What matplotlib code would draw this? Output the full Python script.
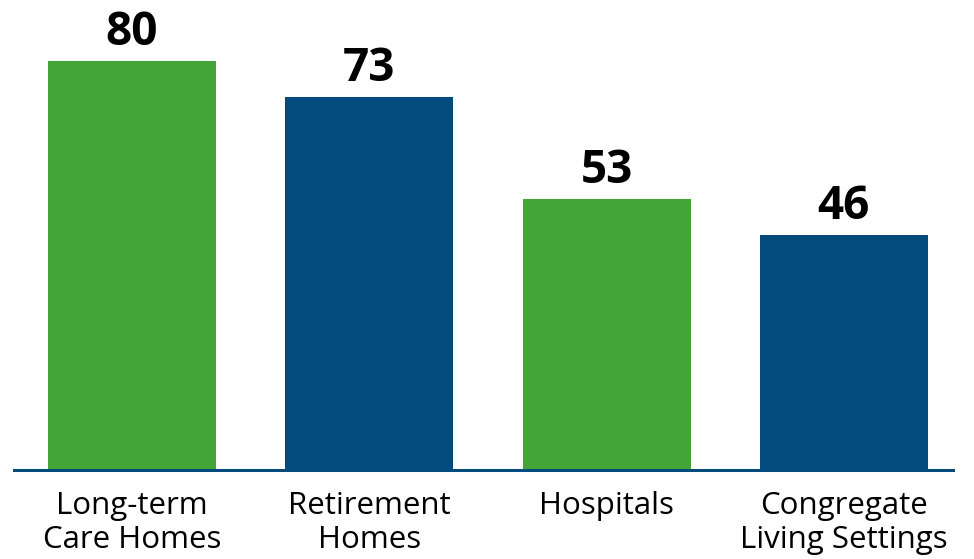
import matplotlib
matplotlib.use("Agg")
import matplotlib.pyplot as plt

categories = ["Long-term\nCare Homes", "Retirement\nHomes", "Hospitals", "Congregate\nLiving Settings"]
values = [80, 73, 53, 46]
colors = ["#43a535", "#034b7c", "#43a535", "#034b7c"]

plt.rcParams['font.family'] = ['Open Sans', 'DejaVu Sans']

fig = plt.figure(figsize=(9.74, 5.59), dpi=100)
ax = fig.add_axes([14 / 974, 89 / 559, 939 / 974, 470 / 559])

x = range(len(values))
bars = ax.bar(x, values, width=0.708, color=colors, zorder=2)

for b, v in zip(bars, values):
    ax.annotate(str(v), (b.get_x() + b.get_width() / 2, v), xytext=(0, 11.5),
                textcoords="offset points", ha="center", va="baseline",
                fontsize=33, fontweight="bold", color="black")

ax.set_xlim(-0.497, 3.46)
ax.set_ylim(0, 92)
ax.set_xticks(list(x))
ax.set_xticklabels(categories, fontsize=22.5, linespacing=1.18)
ax.tick_params(axis="x", length=0, pad=15)
ax.set_yticks([])
for s in ["top", "right", "left"]:
    ax.spines[s].set_visible(False)
ax.spines["bottom"].set_color("#034b7c")
ax.spines["bottom"].set_linewidth(2.2)
ax.spines["bottom"].set_zorder(3)

fig.savefig("out.png", dpi=100)
